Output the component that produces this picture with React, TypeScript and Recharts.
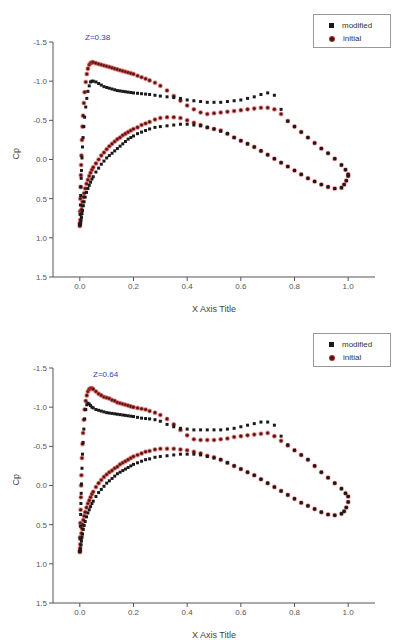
import React from 'react'
import { ScatterChart, Scatter, XAxis, YAxis } from 'recharts'

// chord stations, upper and lower surface (LE -> TE)
const xUpper = [
  0, 0.001, 0.002, 0.003, 0.004, 0.005, 0.006, 0.008, 0.01, 0.012, 0.015, 0.018, 0.022, 0.026, 0.03, 0.035, 0.04,
  0.045, 0.05, 0.06, 0.07, 0.08, 0.09, 0.1, 0.11, 0.12, 0.13, 0.14, 0.15, 0.16, 0.17, 0.18, 0.19, 0.2, 0.215, 0.23,
  0.245, 0.26, 0.28, 0.3, 0.325, 0.35, 0.375, 0.4, 0.425, 0.45, 0.475, 0.5, 0.525, 0.55, 0.575, 0.6, 0.625, 0.65,
  0.675, 0.7, 0.725, 0.75, 0.775, 0.8, 0.825, 0.85, 0.875, 0.9, 0.925, 0.95, 0.975, 0.99, 1.0,
]
const xLower = [
  0, 0.001, 0.002, 0.004, 0.006, 0.008, 0.01, 0.013, 0.016, 0.02, 0.025, 0.03, 0.035, 0.04, 0.045, 0.05, 0.06, 0.07,
  0.08, 0.09, 0.1, 0.11, 0.12, 0.13, 0.14, 0.15, 0.16, 0.17, 0.18, 0.19, 0.2, 0.215, 0.23, 0.245, 0.26, 0.28, 0.3,
  0.325, 0.35, 0.375, 0.4, 0.425, 0.45, 0.475, 0.5, 0.525, 0.55, 0.575, 0.6, 0.625, 0.65, 0.675, 0.7, 0.725, 0.75,
  0.775, 0.8, 0.825, 0.85, 0.875, 0.9, 0.925, 0.95, 0.975, 0.985, 0.993, 1.0,
]

// Z = 0.38
const cpModUpper38 = [
  0.82, 0.7, 0.58, 0.46, 0.35, 0.24, 0.14, -0.02, -0.16, -0.28, -0.42, -0.54, -0.67, -0.78, -0.87, -0.94, -0.99,
  -1.0, -1.0, -0.99, -0.97, -0.95, -0.93, -0.92, -0.91, -0.9, -0.89, -0.88, -0.875, -0.87, -0.865, -0.86, -0.855,
  -0.85, -0.845, -0.84, -0.835, -0.83, -0.82, -0.81, -0.8, -0.79, -0.78, -0.76, -0.75, -0.74, -0.73, -0.73, -0.73,
  -0.74, -0.75, -0.76, -0.78, -0.8, -0.83, -0.85, -0.82, -0.64, -0.49, -0.42, -0.35, -0.28, -0.21, -0.14, -0.08,
  -0.01, 0.07, 0.13, 0.19,
]
const cpInitUpper38 = [
  0.82, 0.66, 0.5, 0.35, 0.2, 0.07, -0.05, -0.25, -0.42, -0.56, -0.72, -0.86, -0.99, -1.09, -1.16, -1.21, -1.23,
  -1.24, -1.24, -1.23, -1.22, -1.21, -1.2, -1.19, -1.18, -1.17, -1.16, -1.15, -1.14, -1.13, -1.12, -1.11, -1.1,
  -1.09, -1.07, -1.05, -1.03, -1.01, -0.98, -0.94, -0.88, -0.81, -0.75, -0.69, -0.64, -0.6, -0.58, -0.59, -0.6,
  -0.61, -0.62, -0.63, -0.64, -0.65, -0.66, -0.66, -0.64, -0.58, -0.49, -0.42, -0.35, -0.28, -0.21, -0.14, -0.08,
  -0.01, 0.07, 0.13, 0.19,
]
const cpModLower38 = [
  0.84, 0.83, 0.82, 0.78, 0.74, 0.69, 0.65, 0.59, 0.54, 0.48, 0.42, 0.37, 0.33, 0.29, 0.25, 0.22, 0.16, 0.11, 0.06,
  0.02, -0.02, -0.05, -0.08, -0.11, -0.14, -0.17, -0.2, -0.23, -0.26, -0.28, -0.3, -0.33, -0.35, -0.37, -0.39,
  -0.41, -0.42, -0.43, -0.44, -0.45, -0.45, -0.44, -0.43, -0.41, -0.39, -0.36, -0.33, -0.28, -0.24, -0.2, -0.16,
  -0.11, -0.06, -0.01, 0.04, 0.09, 0.14, 0.19, 0.24, 0.28, 0.32, 0.35, 0.37, 0.36, 0.32, 0.27, 0.21,
]
const cpInitLower38 = [
  0.85, 0.81, 0.77, 0.7, 0.64, 0.59, 0.54, 0.48, 0.43, 0.37, 0.31, 0.26, 0.21, 0.17, 0.13, 0.1, 0.05, 0.0, -0.05,
  -0.09, -0.13, -0.17, -0.2, -0.23, -0.26, -0.28, -0.31, -0.33, -0.35, -0.37, -0.39, -0.41, -0.44, -0.46, -0.48,
  -0.51, -0.53, -0.54, -0.54, -0.53, -0.5, -0.47, -0.44, -0.41, -0.39, -0.37, -0.33, -0.28, -0.24, -0.2, -0.16,
  -0.11, -0.06, -0.01, 0.04, 0.09, 0.14, 0.19, 0.24, 0.28, 0.32, 0.35, 0.37, 0.36, 0.32, 0.27, 0.21,
]

// Z = 0.64
const cpModUpper64 = [
  0.84, 0.68, 0.52, 0.37, 0.23, 0.1, -0.02, -0.22, -0.4, -0.55, -0.72, -0.85, -0.97, -1.03, -1.05, -1.04, -1.02,
  -1.0, -0.99, -0.97, -0.96, -0.95, -0.94, -0.93, -0.925, -0.92, -0.915, -0.91, -0.905, -0.9, -0.895, -0.89, -0.885,
  -0.88, -0.87, -0.86, -0.855, -0.85, -0.84, -0.82, -0.78, -0.75, -0.73, -0.72, -0.71, -0.71, -0.71, -0.71, -0.71,
  -0.72, -0.73, -0.75, -0.77, -0.79, -0.81, -0.81, -0.77, -0.63, -0.52, -0.45, -0.39, -0.33, -0.25, -0.17, -0.1,
  -0.03, 0.04, 0.1, 0.14,
]
const cpInitUpper64 = [
  0.84, 0.66, 0.48, 0.31, 0.15, 0.0, -0.13, -0.35, -0.53, -0.67, -0.84, -0.97, -1.08, -1.15, -1.2, -1.23, -1.24,
  -1.24, -1.23, -1.2, -1.17, -1.15, -1.13, -1.12, -1.11, -1.09, -1.08, -1.06, -1.05, -1.04, -1.03, -1.02, -1.01,
  -1.0, -0.99, -0.98, -0.97, -0.95, -0.93, -0.9, -0.85, -0.78, -0.71, -0.64, -0.59, -0.58, -0.58, -0.58, -0.59,
  -0.6, -0.62, -0.63, -0.64, -0.65, -0.66, -0.67, -0.63, -0.57, -0.51, -0.45, -0.39, -0.33, -0.25, -0.17, -0.1,
  -0.03, 0.04, 0.1, 0.14,
]
const cpModLower64 = [
  0.84, 0.83, 0.81, 0.76, 0.71, 0.66, 0.62, 0.56, 0.51, 0.46, 0.4, 0.35, 0.31, 0.27, 0.23, 0.2, 0.14, 0.09, 0.05,
  0.01, -0.03, -0.06, -0.09, -0.12, -0.15, -0.17, -0.19, -0.21, -0.23, -0.25, -0.27, -0.29, -0.31, -0.33, -0.34,
  -0.36, -0.37, -0.38, -0.39, -0.4, -0.4, -0.4, -0.39, -0.37, -0.35, -0.33, -0.29, -0.25, -0.21, -0.17, -0.13,
  -0.08, -0.03, 0.02, 0.07, 0.12, 0.17, 0.22, 0.26, 0.3, 0.34, 0.37, 0.38, 0.36, 0.33, 0.28, 0.21,
]
const cpInitLower64 = [
  0.85, 0.8, 0.75, 0.68, 0.61, 0.55, 0.5, 0.44, 0.39, 0.34, 0.28, 0.23, 0.19, 0.15, 0.11, 0.08, 0.02, -0.03, -0.07,
  -0.11, -0.14, -0.17, -0.19, -0.22, -0.24, -0.27, -0.29, -0.31, -0.33, -0.35, -0.37, -0.39, -0.41, -0.43, -0.44,
  -0.46, -0.47, -0.47, -0.47, -0.46, -0.45, -0.43, -0.41, -0.38, -0.36, -0.33, -0.29, -0.25, -0.21, -0.17, -0.13,
  -0.08, -0.03, 0.02, 0.07, 0.12, 0.17, 0.22, 0.26, 0.3, 0.34, 0.37, 0.38, 0.36, 0.33, 0.28, 0.21,
]

const xTicks = [0, 0.2, 0.4, 0.6, 0.8, 1.0]
const yTicks = [-1.5, -1.0, -0.5, 0.0, 0.5, 1.0, 1.5]

const FONT = '"Liberation Sans", Arial, sans-serif'

const toPoints = (xs: number[], cps: number[]) => xs.map((x, i) => ({ x, cp: cps[i] }))

const BlackSquare = (p: any) => (
  <rect x={p.cx - 1.5} y={p.cy - 1.5} width={3} height={3} fill="#1a1a1a" />
)
const RedCircle = (p: any) => (
  <circle cx={p.cx} cy={p.cy} r={1.8} fill="#3d1818" stroke="#e8413c" strokeOpacity={0.5} strokeWidth={1.4} />
)

interface PanelProps {
  zText: string
  zPos: { left: number; top: number }
  legendTop: number
  modUpper: number[]
  modLower: number[]
  initUpper: number[]
  initLower: number[]
}

function Panel({ zText, zPos, legendTop, modUpper, modLower, initUpper, initLower }: PanelProps) {
  const modified = [...toPoints(xUpper, modUpper), ...toPoints(xLower, modLower)]
  const initial = [...toPoints(xUpper, initUpper), ...toPoints(xLower, initLower)]
  const tick = { fontSize: 8, fill: '#555', fontFamily: FONT }
  return (
    <div style={{ position: 'relative', width: 393, height: 326 }}>
      <ScatterChart width={393} height={326} margin={{ top: 34, right: 26, bottom: 0, left: 0 }}>
        <XAxis
          type="number"
          dataKey="x"
          domain={[-0.1, 1.1]}
          ticks={xTicks}
          tickFormatter={(v) => v.toFixed(1)}
          tick={tick}
          stroke="#555"
          tickSize={4}
          height={57}
          allowDataOverflow
          label={{ value: 'X Axis Title', position: 'insideBottom', offset: 22, fontSize: 9, fill: '#444', fontFamily: FONT }}
        />
        <YAxis
          type="number"
          dataKey="cp"
          domain={[-1.5, 1.5]}
          reversed
          ticks={yTicks}
          tickFormatter={(v) => v.toFixed(1)}
          tick={tick}
          stroke="#555"
          tickSize={4}
          width={45}
          allowDataOverflow
          label={{ value: 'Cp', angle: -90, position: 'insideLeft', offset: 8, fontSize: 9, fill: '#444', fontFamily: FONT }}
        />
        <Scatter name="initial" data={initial} shape={RedCircle} isAnimationActive={false} />
        <Scatter name="modified" data={modified} shape={BlackSquare} isAnimationActive={false} />
      </ScatterChart>
      <div
        style={{
          position: 'absolute',
          left: zPos.left,
          top: zPos.top,
          fontSize: 8,
          color: '#3a3aa8',
          fontFamily: FONT,
        }}
      >
        {zText}
      </div>
      <div
        style={{
          position: 'absolute',
          left: 305,
          top: legendTop,
          width: 78,
          height: 34,
          border: '1px solid #999',
          background: '#fff',
          fontSize: 8,
          color: '#333',
          fontFamily: FONT,
          boxSizing: 'border-box',
          padding: '4px 0 0 15px',
          lineHeight: '13px',
        }}
      >
        <div style={{ display: 'flex', alignItems: 'center' }}>
          <span style={{ width: 5, height: 5, background: '#1a1a1a', marginRight: 8 }} />
          modified
        </div>
        <div style={{ display: 'flex', alignItems: 'center' }}>
          <span
            style={{
              width: 4,
              height: 4,
              borderRadius: '50%',
              background: '#3d1818',
              border: '1px solid rgba(232,65,60,0.6)',
              marginRight: 8,
            }}
          />
          initial
        </div>
      </div>
    </div>
  )
}

export default function App() {
  return (
    <div style={{ width: 393, background: '#fff' }}>
      <Panel
        zText="Z=0.38"
        zPos={{ left: 77, top: 25 }}
        legendTop={6}
        modUpper={cpModUpper38}
        modLower={cpModLower38}
        initUpper={cpInitUpper38}
        initLower={cpInitLower38}
      />
      <Panel
        zText="Z=0.64"
        zPos={{ left: 85, top: 36 }}
        legendTop={-1}
        modUpper={cpModUpper64}
        modLower={cpModLower64}
        initUpper={cpInitUpper64}
        initLower={cpInitLower64}
      />
    </div>
  )
}
